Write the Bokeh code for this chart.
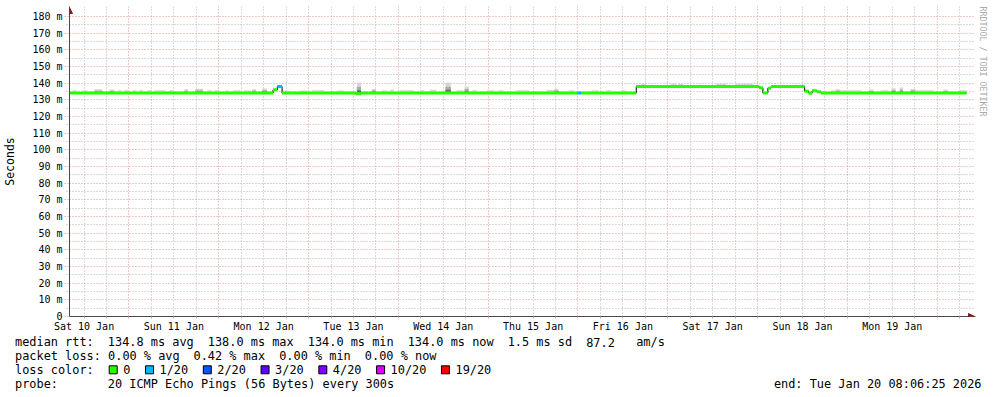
import re
import numpy as np
import pandas as pd
from bokeh.plotting import figure
from bokeh.core.properties import value
from bokeh.models import Range1d, FixedTicker, Arrow, NormalHead, Title
from bokeh.embed import file_html
from bokeh.resources import INLINE

# ---------------- data ----------------
end_time = "2026-01-20 08:06:25"
graph_days = 10

day_labels = ["Sat 10 Jan", "Sun 11 Jan", "Mon 12 Jan", "Tue 13 Jan", "Wed 14 Jan",
              "Thu 15 Jan", "Fri 16 Jan", "Sat 17 Jan", "Sun 18 Jan", "Mon 19 Jan"]
y_tick_values = list(range(0, 181, 10))
y_tick_labels = ["0"] + [f"{v} m" for v in range(10, 181, 10)]

# median rtt (ms), piecewise constant from each time until the next one
median_time = ["2026-01-10 08:06", "2026-01-12 14:30", "2026-01-12 15:40", "2026-01-12 16:55",
               "2026-01-13 12:35", "2026-01-13 14:00", "2026-01-15 23:50", "2026-01-16 00:55",
               "2026-01-16 15:35", "2026-01-18 00:25", "2026-01-18 01:25", "2026-01-18 02:45",
               "2026-01-18 03:35", "2026-01-18 12:35", "2026-01-18 13:40", "2026-01-18 14:35",
               "2026-01-18 15:50", "2026-01-18 16:55"]
median_end = "2026-01-20 07:50"
median_ms = [134.1, 136.0, 138.0, 134.1, 133.7, 134.1, 134.1, 134.1,
             138.0, 137.2, 134.1, 137.0, 138.0, 135.2, 134.0, 135.4, 134.8, 134.1]
median_loss = [0, 0, 1, 0, 0, 0, 1, 0, 0, 0, 0, 0, 0, 0, 0, 0, 0, 0]

# smoke (spread of the pings): hours since Sat 10 Jan 00:00, top of the smoke in ms
smoke_from_h = [8.9, 11.8, 14.8, 18.8, 20.9, 22.8, 24.9, 26.8, 28.9, 30.8, 34.8, 38.8, 41.7,
                44.9, 46.8, 49.7, 51.8, 54.8, 56.9, 59.6, 64.9, 69.7, 72.9, 79.6, 84.9, 88.9,
                91.6, 93.7, 96.4, 101.7, 104.4, 108.6, 111.6, 113.7, 115.8, 119.6, 122.8, 127.6,
                135.6, 137.7, 141.7, 147.6, 151.6, 155.6, 160.9, 168.9, 170.8, 180.9, 186.2,
                206.8, 211.6, 212.9, 215.0, 221.7, 224.9, 227.8, 230.0, 232.9, 234.2, 241.7, 245.7]
smoke_to_h = [10.0, 12.9, 16.9, 20.1, 22.0, 23.8, 26.0, 27.8, 30.0, 33.7, 36.1, 39.8, 43.8,
              46.0, 48.1, 50.8, 53.7, 56.6, 58.0, 60.9, 67.0, 71.6, 76.1, 81.4, 86.0, 90.0,
              92.9, 94.8, 100.1, 102.8, 106.2, 110.0, 113.4, 114.8, 116.9, 121.7, 124.1, 131.0,
              138.8, 138.8, 143.0, 149.4, 152.9, 156.9, 162.2, 170.2, 172.1, 183.6, 190.8,
              208.4, 215.0, 214.0, 219.6, 223.0, 227.0, 228.9, 230.8, 234.2, 239.0, 242.8, 247.8]
smoke_top_ms = [135.8, 135.7, 136.3, 136.2, 135.7, 135.9, 135.7, 135.9, 135.7, 135.8, 135.7, 136.3, 136.6,
                135.8, 135.8, 135.6, 135.8, 135.8, 136.3, 136.8, 135.6, 135.6, 135.8, 135.6, 140.4, 136.5,
                135.7, 136.0, 135.7, 135.7, 136.1, 140.4, 135.7, 138.0, 135.7, 135.8, 135.7, 135.7,
                135.9, 136.6, 135.7, 135.7, 135.7, 135.7, 139.7, 139.7, 139.7, 139.7, 139.6,
                136.0, 135.7, 136.3, 135.7, 136.2, 135.7, 136.9, 137.4, 136.5, 135.7, 136.2, 135.7]

loss_labels = ["0", "1/20", "2/20", "3/20", "4/20", "10/20", "19/20"]
loss_steps = [0, 1, 2, 3, 4, 10, 19]
loss_colors = ["#26ff00", "#00b8ff", "#0059ff", "#5e00ff", "#7e00ff", "#dd00ff", "#ff0000"]

stats_rtt = "median rtt:  134.8 ms avg  138.0 ms max  134.0 ms min  134.0 ms now  1.5 ms sd  87.2   am/s"
stats_loss = "packet loss: 0.00 % avg  0.42 % max  0.00 % min  0.00 % now"
loss_title = "loss color:"
probe_text = "probe:       20 ICMP Echo Pings (56 Bytes) every 300s"
end_text = "end: Tue Jan 20 08:06:25 2026"
y_title = "Seconds"
watermark = "RRDTOOL / TOBI OETIKER"

# ---------------- helpers ----------------
ORIGIN = pd.Timestamp("2026-01-10 00:00:00")


def to_h(ts):
    return ((pd.to_datetime(pd.Series(ts)) - ORIGIN) / pd.Timedelta(hours=1)).to_numpy(dtype=float)


t_end = to_h([end_time])[0]
t_start = t_end - graph_days * 24

FONT = "DejaVu Sans Mono"
W = 997
H_MAIN = 334
H_LEG = 397 - H_MAIN - 2
FL, FR, FT, FB = 67, 975, 6, 316          # frame edges, page px
PX_PER_H = 900 / (graph_days * 24)
PX_PER_MS = 300 / 180
x_hi = t_start + (FR - FL) / PX_PER_H
y_hi = (FB - FT) / PX_PER_MS


def dy(py):
    return (FB - py) / PX_PER_MS


def dx(px):
    return t_start + (px - FL) / PX_PER_H


MGRID = "#dc9494"
GRID = "#b4b4b4"
AXIS = "#4a4a4a"
ARROW = "#8b1a1a"

p = figure(width=W, height=H_MAIN, x_range=Range1d(t_start, x_hi), y_range=Range1d(0, y_hi),
           output_backend="svg", toolbar_location=None,
           min_border_left=FL, min_border_right=W - FR,
           min_border_top=FT, min_border_bottom=H_MAIN - FB,
           background_fill_color="white", border_fill_color="white")
p.outline_line_color = None

# ---- axes and grids ----
noon_h = [12 + 24 * i for i in range(len(day_labels))]
six_h = [h for h in range(0, 260, 6) if t_start <= h <= x_hi]
midnight_h = [h for h in six_h if h % 24 == 0]
minor_h = [h for h in six_h if h % 24 != 0]

p.xaxis.ticker = FixedTicker(ticks=noon_h, minor_ticks=six_h)
p.xaxis.major_label_overrides = {h: lab for h, lab in zip(noon_h, day_labels)}
p.xaxis.major_tick_out = 0
p.xaxis.major_tick_in = 0
p.xaxis.minor_tick_out = 2
p.xaxis.minor_tick_in = 0
p.xaxis.minor_tick_line_color = GRID
p.xaxis.major_label_standoff = 2
p.xaxis.major_label_text_font = FONT
p.xaxis.major_label_text_font_size = "10px"
p.xaxis.major_label_text_color = "black"
p.xaxis.axis_line_color = AXIS

p.yaxis.ticker = FixedTicker(ticks=y_tick_values, minor_ticks=[v + 5 for v in y_tick_values[:-1]])
p.yaxis.major_label_overrides = {v: lab for v, lab in zip(y_tick_values, y_tick_labels)}
p.yaxis.major_tick_out = 5
p.yaxis.major_tick_in = 0
p.yaxis.major_tick_line_color = MGRID
p.yaxis.major_tick_line_dash = "1 2"
p.yaxis.minor_tick_out = 3
p.yaxis.minor_tick_in = 0
p.yaxis.minor_tick_line_color = GRID
p.yaxis.minor_tick_line_dash = "1 2"
p.yaxis.major_label_standoff = 2
p.yaxis.major_label_text_font = FONT
p.yaxis.major_label_text_font_size = "10px"
p.yaxis.major_label_text_color = "black"
p.yaxis.axis_line_color = AXIS
p.yaxis.axis_label = y_title
p.yaxis.axis_label_text_font = FONT
p.yaxis.axis_label_text_font_size = "11.5px"
p.yaxis.axis_label_text_font_style = "normal"
p.yaxis.axis_label_text_color = "black"
p.yaxis.axis_label_standoff = 12

p.xgrid.ticker = FixedTicker(ticks=midnight_h, minor_ticks=minor_h)
for g in (p.xgrid, p.ygrid):
    g.grid_line_color = MGRID
    g.grid_line_dash = "1 2"
    g.minor_grid_line_color = GRID
    g.minor_grid_line_dash = "1 2"

p.add_layout(Title(text=watermark, align="left", text_font=FONT, text_font_size="8.3px",
                   text_font_style="normal", text_color="#aaaaaa", standoff=4), "right")

# ---- smoke ----
med_h = to_h(median_time)
med_v = np.array(median_ms)
s_from = np.array(smoke_from_h)
s_to = np.array(smoke_to_h)
s_top = np.array(smoke_top_ms)
idx = np.searchsorted(med_h, (s_from + s_to) / 2, side="right") - 1
s_base = med_v[np.clip(idx, 0, len(med_v) - 1)]
s_bottom = s_base - 0.6
p.quad(left=s_from, right=s_to, bottom=s_bottom, top=s_top, fill_color="#d6d6d6", line_color=None)
tall = (s_top - s_base) > 2
p.quad(left=s_from[tall], right=s_to[tall], bottom=s_bottom[tall],
       top=(s_base + 0.6 * (s_top - s_base))[tall], fill_color="#a8a8a8", line_color=None)
p.quad(left=s_from[tall], right=s_to[tall], bottom=s_bottom[tall],
       top=(s_base + 0.3 * (s_top - s_base))[tall], fill_color="#6c6c6c", line_color=None)

# ---- median line ----
seg_x1 = np.append(med_h[1:], to_h([median_end])[0])
step_x = np.column_stack([med_h, seg_x1]).ravel()
step_y = np.repeat(med_v, 2)
p.line(step_x, step_y, line_color="black", line_width=1)


def loss_color(n):
    c = loss_colors[0]
    for s, col in zip(loss_steps, loss_colors):
        if n >= s:
            c = col
    return c


p.segment(x0=med_h, y0=med_v, x1=seg_x1, y1=med_v,
          line_color=[loss_color(n) for n in median_loss], line_width=3)

# ---- axis arrows ----
p.add_layout(Arrow(end=NormalHead(size=6, fill_color=ARROW, line_color=ARROW, line_width=1),
                   x_start=t_start, y_start=dy(14), x_end=t_start, y_end=dy(7),
                   line_alpha=0))
p.add_layout(Arrow(end=NormalHead(size=6, fill_color=ARROW, line_color=ARROW, line_width=1),
                   x_start=dx(966), y_start=0, x_end=dx(974), y_end=0,
                   line_alpha=0))

# ---------------- legend block (page-pixel coordinates) ----------------
LEG_TOP = H_MAIN
leg = figure(width=W, height=H_LEG, x_range=Range1d(0, W), y_range=Range1d(LEG_TOP + H_LEG, LEG_TOP),
             output_backend="svg", toolbar_location=None,
             x_axis_location=None, y_axis_location=None,
             min_border_left=0, min_border_right=0, min_border_top=0, min_border_bottom=0,
             background_fill_color="white", border_fill_color="white")
leg.outline_line_color = None
leg.grid.visible = False

CW = 7.14
TX0 = 14.5
LEG_FS = "11.9px"
tx, ty, tt, ta = [], [], [], []


def mono_line(text, page_y, x0=TX0):
    for m in re.finditer(r"\S+(?: \S+)*", text):
        tx.append(x0 + m.start() * CW)
        ty.append(page_y)
        tt.append(m.group(0))
        ta.append("left")


mono_line(stats_rtt, 341.7)
mono_line(stats_loss, 355.0)
mono_line(loss_title, 369.3)
mono_line(probe_text, 383.3)
tx.append(981)
ty.append(383.3)
tt.append(end_text)
ta.append("right")

bl, br, bcol = [], [], []
bx = 108.7
for lab, col in zip(loss_labels, loss_colors):
    bl.append(bx)
    br.append(bx + 8)
    bcol.append(col)
    lx = bx + 14
    tx.append(lx)
    ty.append(369.3)
    tt.append(lab)
    ta.append("left")
    bx = lx + len(lab) * CW + 15.2

leg.quad(left=bl, right=br, top=365.3, bottom=373.3, fill_color=bcol, line_color="black", line_width=1)
leg.text(x=tx, y=ty, text=tt, text_align=ta, text_baseline="middle",
         text_font=value(FONT), text_font_size=value(LEG_FS), text_color="black")

open("out.html", "w").write(file_html([p, leg], INLINE))
